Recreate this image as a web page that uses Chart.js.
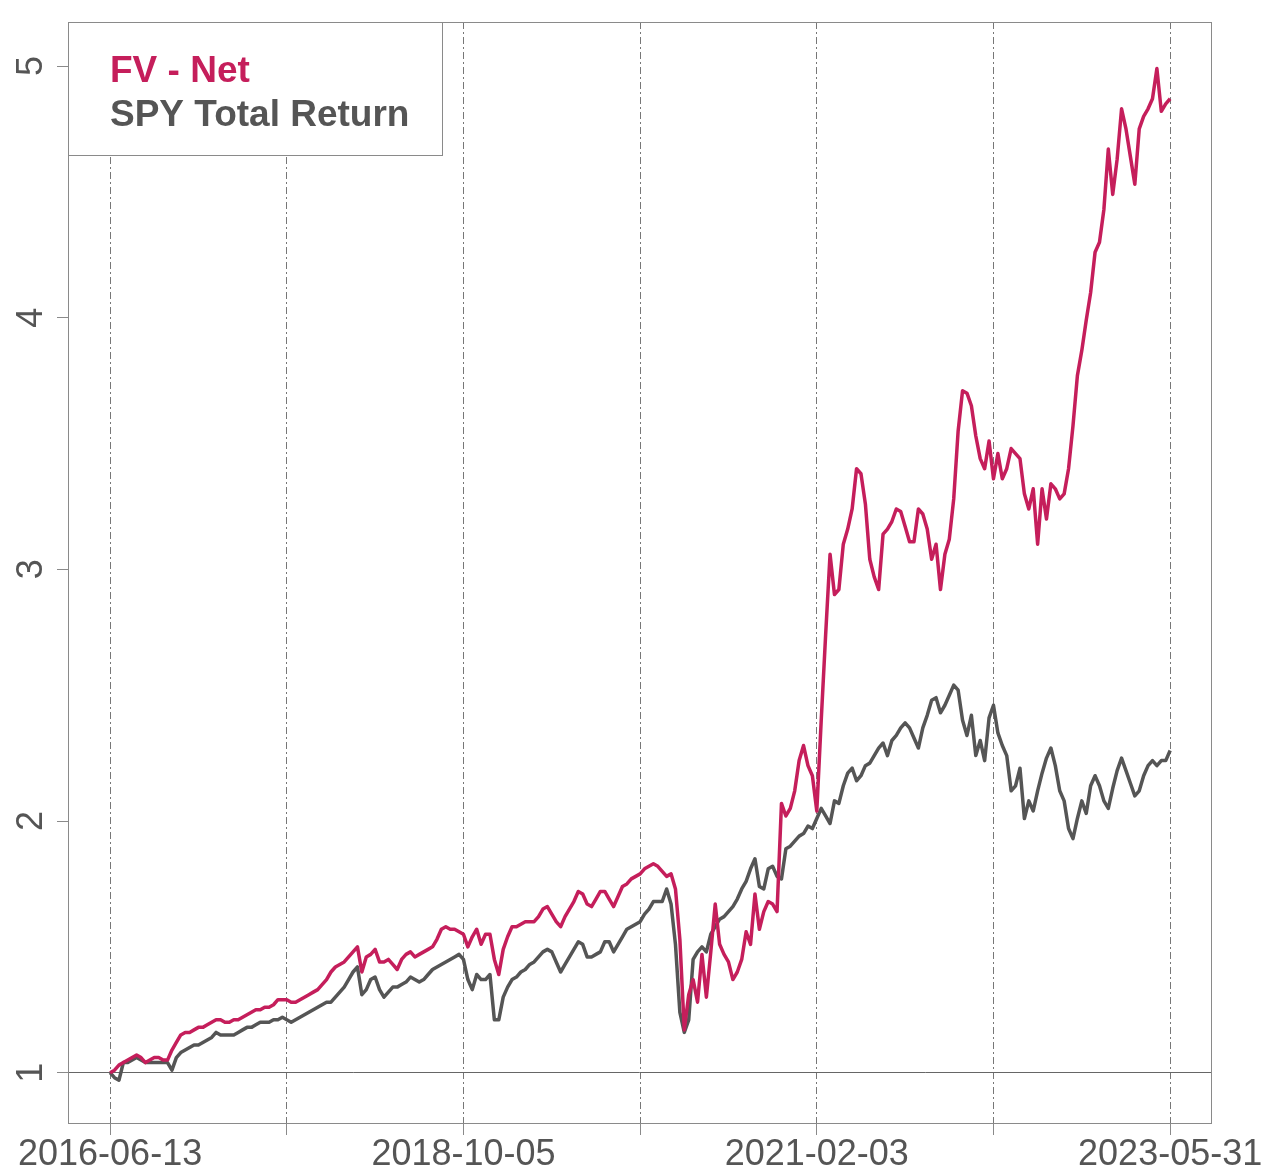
<!DOCTYPE html>
<html>
<head>
<meta charset="utf-8">
<script src="https://cdn.jsdelivr.net/npm/chart.js@4.4.0/dist/chart.umd.min.js"></script>
<style>
  html, body { margin: 0; padding: 0; background: #fff; }
  #wrap { width: 1280px; height: 1170px; }
</style>
</head>
<body>
<div id="wrap"><canvas id="grafico" width="1280" height="1170"></canvas></div>
<script>
// growth of $1, 2016-06-13 .. 2023-05-31, every ~10.6 days (241 points)
const seriesNames = ["FV - Net", "SPY Total Return"];
const spanDays = 2543;
const tickLabels = ["2016-06-13", "", "2018-10-05", "", "2021-02-03", "", "2023-05-31"];
const yTicks = [1, 2, 3, 4, 5];

const fvNet = [
  1.00, 1.01, 1.03, 1.04, 1.05, 1.06, 1.07, 1.06, 1.04, 1.05,
  1.06, 1.06, 1.05, 1.05, 1.09, 1.12, 1.15, 1.16, 1.16, 1.17,
  1.18, 1.18, 1.19, 1.20, 1.21, 1.21, 1.20, 1.20, 1.21, 1.21,
  1.22, 1.23, 1.24, 1.25, 1.25, 1.26, 1.26, 1.27, 1.29, 1.29,
  1.29, 1.28, 1.28, 1.29, 1.30, 1.31, 1.32, 1.33, 1.35, 1.37,
  1.40, 1.42, 1.43, 1.44, 1.46, 1.48, 1.50, 1.40, 1.46, 1.47,
  1.49, 1.44, 1.44, 1.45, 1.43, 1.41, 1.45, 1.47, 1.48, 1.46,
  1.47, 1.48, 1.49, 1.50, 1.53, 1.57, 1.58, 1.57, 1.57, 1.56,
  1.55, 1.50, 1.54, 1.57, 1.51, 1.55, 1.55, 1.45, 1.39, 1.49,
  1.54, 1.58, 1.58, 1.59, 1.60, 1.60, 1.60, 1.62, 1.65, 1.66,
  1.63, 1.60, 1.58, 1.62, 1.65, 1.68, 1.72, 1.71, 1.67, 1.66,
  1.69, 1.72, 1.72, 1.69, 1.66, 1.70, 1.74, 1.75, 1.77, 1.78,
  1.79, 1.81, 1.82, 1.83, 1.82, 1.80, 1.78, 1.79, 1.73, 1.53,
  1.17, 1.31, 1.37, 1.28, 1.47, 1.30, 1.48, 1.67, 1.51, 1.47,
  1.44, 1.37, 1.40, 1.45, 1.56, 1.51, 1.71, 1.57, 1.64, 1.68,
  1.67, 1.64, 2.07, 2.02, 2.05, 2.12, 2.24, 2.30, 2.22, 2.18,
  2.04, 2.40, 2.74, 3.06, 2.90, 2.92, 3.10, 3.16, 3.24, 3.40,
  3.38, 3.26, 3.04, 2.97, 2.92, 3.14, 3.16, 3.19, 3.24, 3.23,
  3.17, 3.11, 3.11, 3.24, 3.22, 3.16, 3.04, 3.10, 2.92, 3.06,
  3.12, 3.28, 3.55, 3.71, 3.70, 3.65, 3.53, 3.44, 3.40, 3.51,
  3.36, 3.46, 3.36, 3.40, 3.48, 3.46, 3.44, 3.30, 3.24, 3.32,
  3.10, 3.32, 3.20, 3.34, 3.32, 3.28, 3.30, 3.40, 3.57, 3.77,
  3.87, 3.99, 4.10, 4.26, 4.30, 4.43, 4.67, 4.49, 4.63, 4.83,
  4.75, 4.64, 4.53, 4.75, 4.80, 4.83, 4.87, 4.99, 4.82, 4.85,
  4.87
];

const spyTotal = [
  1.00, 0.98, 0.97, 1.04, 1.04, 1.05, 1.06, 1.05, 1.04, 1.04,
  1.04, 1.04, 1.04, 1.04, 1.01, 1.06, 1.08, 1.09, 1.10, 1.11,
  1.11, 1.12, 1.13, 1.14, 1.16, 1.15, 1.15, 1.15, 1.15, 1.16,
  1.17, 1.18, 1.18, 1.19, 1.20, 1.20, 1.20, 1.21, 1.21, 1.22,
  1.21, 1.20, 1.21, 1.22, 1.23, 1.24, 1.25, 1.26, 1.27, 1.28,
  1.28, 1.30, 1.32, 1.34, 1.37, 1.40, 1.42, 1.31, 1.33, 1.37,
  1.38, 1.33, 1.30, 1.32, 1.34, 1.34, 1.35, 1.36, 1.38, 1.37,
  1.36, 1.37, 1.39, 1.41, 1.42, 1.43, 1.44, 1.45, 1.46, 1.47,
  1.45, 1.37, 1.33, 1.39, 1.37, 1.37, 1.39, 1.21, 1.21, 1.30,
  1.34, 1.37, 1.38, 1.40, 1.41, 1.43, 1.44, 1.46, 1.48, 1.49,
  1.48, 1.44, 1.40, 1.43, 1.46, 1.49, 1.52, 1.51, 1.46, 1.46,
  1.47, 1.48, 1.52, 1.52, 1.48, 1.51, 1.54, 1.57, 1.58, 1.59,
  1.60, 1.63, 1.65, 1.68, 1.68, 1.68, 1.73, 1.67, 1.51, 1.24,
  1.16, 1.21, 1.45, 1.48, 1.50, 1.48, 1.55, 1.58, 1.61, 1.62,
  1.64, 1.66, 1.69, 1.73, 1.76, 1.81, 1.85, 1.74, 1.73, 1.81,
  1.82, 1.78, 1.77, 1.89, 1.90, 1.92, 1.94, 1.95, 1.98, 1.97,
  2.01, 2.05, 2.02, 1.99, 2.08, 2.07, 2.14, 2.19, 2.21, 2.16,
  2.18, 2.22, 2.23, 2.26, 2.29, 2.31, 2.26, 2.32, 2.34, 2.37,
  2.39, 2.37, 2.33, 2.29, 2.37, 2.42, 2.48, 2.49, 2.43, 2.46,
  2.50, 2.54, 2.52, 2.40, 2.34, 2.42, 2.26, 2.32, 2.24, 2.41,
  2.46, 2.35, 2.30, 2.26, 2.12, 2.14, 2.21, 2.01, 2.08, 2.04,
  2.12, 2.19, 2.25, 2.29, 2.22, 2.12, 2.08, 1.97, 1.93, 2.01,
  2.08, 2.03, 2.14, 2.18, 2.14, 2.08, 2.05, 2.13, 2.20, 2.25,
  2.20, 2.15, 2.10, 2.12, 2.18, 2.22, 2.24, 2.22, 2.24, 2.24,
  2.28
];

const cores = { fv: "#C51E5B", spy: "#555555", texto: "#555555", moldura: "#8a8a8a" };

function pontos(valores) {
  const passo = spanDays / (valores.length - 1);
  return valores.map((v, i) => ({ x: i * passo, y: v }));
}

const molduraPlugin = {
  id: "moldura",
  beforeDraw(chart) {
    const ctx = chart.ctx;
    ctx.save();
    ctx.fillStyle = "#fff";
    ctx.fillRect(0, 0, chart.width, chart.height);
    ctx.restore();
  },
  afterDraw(chart) {
    const ctx = chart.ctx;
    const a = chart.chartArea;
    const yScale = chart.scales.y;

    // frame
    ctx.save();
    ctx.strokeStyle = cores.moldura;
    ctx.lineWidth = 1;
    ctx.strokeRect(a.left + 0.5, a.top + 0.5, a.right - a.left, a.bottom - a.top);

    // rotated y tick labels
    ctx.fillStyle = cores.texto;
    ctx.font = "36px 'Liberation Sans', Arial, sans-serif";
    ctx.textAlign = "center";
    ctx.textBaseline = "alphabetic";
    yTicks.forEach(t => {
      ctx.save();
      ctx.translate(42, yScale.getPixelForValue(t));
      ctx.rotate(-Math.PI / 2);
      ctx.fillText(String(t), 0, 0);
      ctx.restore();
    });

    // legend box
    ctx.fillStyle = "#fff";
    ctx.fillRect(a.left, a.top, 374, 133);
    ctx.strokeStyle = cores.moldura;
    ctx.strokeRect(a.left + 0.5, a.top + 0.5, 374, 133);
    ctx.font = "bold 37px 'Liberation Sans', Arial, sans-serif";
    ctx.textAlign = "left";
    ctx.fillStyle = cores.fv;
    ctx.fillText(seriesNames[0], 110, 82);
    ctx.fillStyle = cores.spy;
    ctx.fillText(seriesNames[1], 110, 126);
    ctx.restore();
  }
};

document.addEventListener("DOMContentLoaded", () => {
  const estiloLinha = { borderWidth: 3.5, pointRadius: 0, tension: 0, borderJoinStyle: "round" };
  new Chart(document.getElementById("grafico"), {
    type: "line",
    data: {
      datasets: [
        { label: seriesNames[0], data: pontos(fvNet), borderColor: cores.fv, ...estiloLinha },
        { label: seriesNames[1], data: pontos(spyTotal), borderColor: cores.spy, ...estiloLinha }
      ]
    },
    options: {
      responsive: false,
      animation: false,
      layout: { padding: { top: 22, right: 69, left: 0, bottom: 0 } },
      plugins: { legend: { display: false }, tooltip: { enabled: false } },
      scales: {
        x: {
          type: "linear",
          min: -101,
          max: 2641,
          afterBuildTicks: s => { s.ticks = tickLabels.map((_, k) => ({ value: k * spanDays / 6 })); },
          afterFit: s => { s.height = 47; },
          ticks: {
            autoSkip: false,
            maxRotation: 0,
            color: cores.texto,
            font: { family: "'Liberation Sans', Arial, sans-serif", size: 36 },
            padding: -2,
            callback: (v, i) => tickLabels[i]
          },
          grid: {
            color: "#777",
            lineWidth: 1,
            tickColor: cores.moldura,
            tickLength: 12,
            tickBorderDash: []
          },
          border: { display: false, dash: [7, 3, 2, 3] }
        },
        y: {
          type: "linear",
          min: 0.80,
          max: 5.175,
          afterBuildTicks: s => { s.ticks = yTicks.map(v => ({ value: v })); },
          afterFit: s => { s.width = 68; },
          ticks: { display: false },
          grid: {
            color: c => (c.tick && c.tick.value === 1 ? "#666" : "rgba(0,0,0,0)"),
            lineWidth: 1,
            tickColor: cores.moldura,
            tickLength: 11
          },
          border: { display: false, dash: [] }
        }
      }
    },
    plugins: [molduraPlugin]
  });
});
</script>
</body>
</html>
